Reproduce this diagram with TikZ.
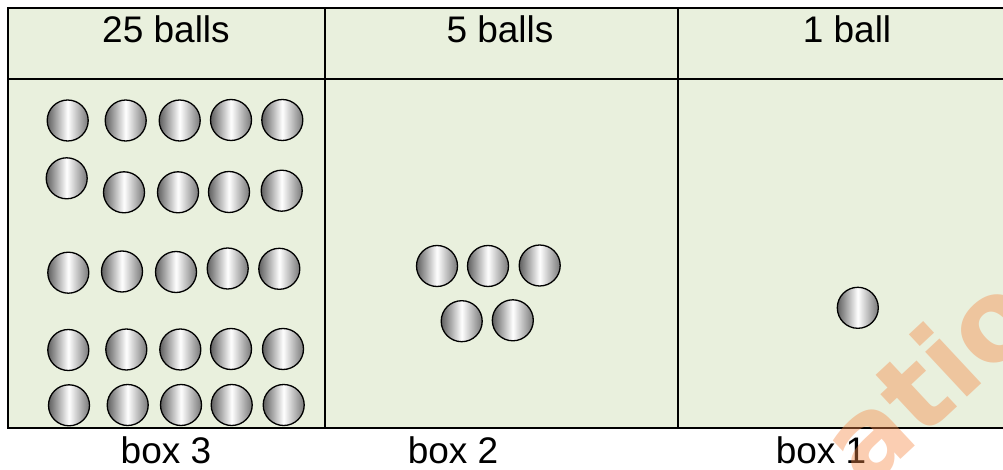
\documentclass[tikz,border=0pt]{standalone}
\usepackage{fontspec}
\setmainfont{Liberation Sans}
\newfontfamily\wmfont{DejaVu Sans}
\definecolor{cellbg}{RGB}{233,240,221}
\definecolor{balldark}{RGB}{95,95,95}
\definecolor{ballright}{RGB}{120,120,120}
\definecolor{wmark}{RGB}{245,138,72}
\tikzset{
  ball/.style={circle, draw=black, line width=1.3pt, inner sep=0pt, minimum size=41pt,
    left color=balldark, right color=ballright, middle color=white},
  lbl/.style={anchor=base, font=\fontsize{37}{40}\selectfont, inner sep=0pt},
  grid/.style={line width=2pt, draw=black}
}
\begin{document}
\begin{tikzpicture}[x=1pt,y=-1pt]
\useasboundingbox (0,0) rectangle (1003,470);
\begin{scope}
\clip (0,0) rectangle (1003,470);
\fill[cellbg] (8,8) rectangle (1010,428);
\draw[grid] (1010,8) -- (8,8) -- (8,428) -- (1010,428);
\draw[grid] (8,79) -- (1010,79);
\draw[grid] (325,8) -- (325,428);
\draw[grid] (678,8) -- (678,428);
\end{scope}
% headers
\node[lbl] (h3) at (166,43) {25 balls};
\node[lbl] (h2) at (500,43) {5 balls};
\node[lbl] (h1) at (847,43) {1 ball};
% box labels
\node[lbl] (l3) at (166,463) {box 3};
\node[lbl] (l2) at (453,463) {box 2};
\node[lbl] (l1) at (821,463) {box 1};
% box 3 balls
\node[ball] (a1) at (67.7,120.5) {};
\node[ball] (a2) at (125.7,120.5) {};
\node[ball] (a3) at (179.7,120.5) {};
\node[ball] (a4) at (231,120) {};
\node[ball] (a5) at (282.3,120) {};
\node[ball] (b1) at (66.7,178.3) {};
\node[ball] (b2) at (124,192.3) {};
\node[ball] (b3) at (178,192.3) {};
\node[ball] (b4) at (229,192) {};
\node[ball] (b5) at (281.7,190.7) {};
\node[ball] (c1) at (68.3,272.7) {};
\node[ball] (c2) at (122,271.5) {};
\node[ball] (c3) at (176,272) {};
\node[ball] (c4) at (227.7,268.5) {};
\node[ball] (c5) at (279.3,268.8) {};
\node[ball] (d1) at (68.3,350) {};
\node[ball] (d2) at (126.3,349.5) {};
\node[ball] (d3) at (180.3,349.5) {};
\node[ball] (d4) at (231,349) {};
\node[ball] (d5) at (283,349) {};
\node[ball] (e1) at (69,405.3) {};
\node[ball] (e2) at (127.7,405) {};
\node[ball] (e3) at (181,405) {};
\node[ball] (e4) at (231.7,405) {};
\node[ball] (e5) at (283.7,405) {};
% box 2 balls
\node[ball] (f1) at (437,266) {};
\node[ball] (f2) at (488,266) {};
\node[ball] (f3) at (539.7,265.5) {};
\node[ball] (f4) at (461.7,321.2) {};
\node[ball] (f5) at (512.8,320.3) {};
% box 1 ball
\node[ball] (g1) at (857.8,307.8) {};
% watermark
\begin{scope}
\clip (0,0) rectangle (1003,470);
\node[rotate=43, anchor=base west, text=wmark, opacity=0.42, font=\wmfont\fontsize{112}{112}\selectfont\bfseries, inner sep=0pt] (wm) at (866,492) {atio};
\end{scope}
\end{tikzpicture}
\end{document}
